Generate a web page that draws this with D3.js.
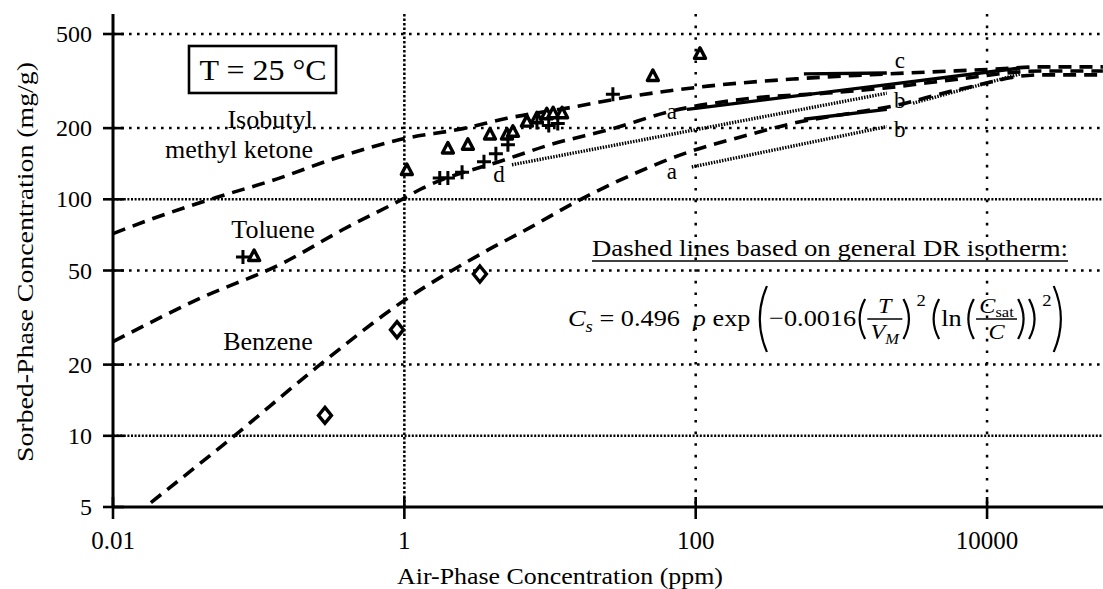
<!DOCTYPE html>
<html>
<head>
<meta charset="utf-8">
<script src="https://cdn.jsdelivr.net/npm/d3@7"></script>
<style>
  html, body { margin: 0; padding: 0; background: #fff; }
  svg { display: block; }
  text { font-family: "Liberation Serif", "DejaVu Serif", serif; fill: #000; }
</style>
</head>
<body>
<svg id="chart" width="1103" height="589"></svg>
<script>
// Axis ticks
const xTicks = [0.01, 1, 100, 10000];
const xTickLabels = ['0.01', '1', '100', '10000'];
const yTicks = [5, 10, 20, 50, 100, 200, 500];
const yTickLabels = ['5', '10', '20', '50', '100', '200', '500'];
const xGrid = [1, 100, 10000];
const yGrid = [10, 20, 50, 100, 200, 500];

// Measured points: isobutyl methyl ketone (triangles)
const ibmkX = [0.093, 1.04, 1.99, 2.73, 3.87, 5.06, 5.56, 6.94, 8.13, 9.5, 10.5, 12.1, 50.8, 107];
const ibmkY = [57.6, 133, 164, 170, 188, 188, 193, 213, 220, 229, 231, 231, 332, 412];
// toluene (plus signs)
const tolX = [0.078, 1.75, 1.99, 2.49, 3.52, 4.25, 5.14, 8.13, 9.8, 11.3, 27];
const tolY = [57, 123, 123, 130, 144, 156, 170, 211, 205, 209, 278];
// benzene (diamonds)
const benX = [0.285, 0.89, 3.3];
const benY = [12.2, 28.1, 48.3];

// General DR isotherm curves (dashed)
const drIbmkX = [0.01, 0.0179, 0.0518, 0.134, 0.324, 0.933, 2.52, 5.06, 13.1, 37, 121, 487, 2050, 12250, 23000, 62400];
const drIbmkY = [71.6, 82, 102, 122, 148, 179, 199, 220, 243, 273, 301, 323, 339, 356, 363, 363];
const drTolX = [0.01, 0.0395, 0.147, 0.379, 0.964, 1.28, 5.06, 9.98, 27, 66.5, 236, 771, 1930, 6500, 23000, 62400];
const drTolY = [25, 38.1, 53.8, 74.5, 100, 110, 148, 170, 199, 235, 267, 281, 295, 323, 349, 349];
const drBenX = [0.0182, 0.0667, 0.251, 0.933, 3.46, 7.28, 14.8, 30.2, 91, 236, 457, 1143, 2050, 6500, 23000, 62400];
const drBenY = [5.22, 9.9, 19.5, 36.3, 59.4, 75.9, 97, 120.5, 159, 188, 209, 231, 245, 292, 336, 336];

// Other isotherms (a-d)
const lineAUpX = [87, 2220, 16800];
const lineAUpY = [240, 307, 359];
const lineCX = [553, 2050];
const lineCY = [339, 342];
const lineBUpX = [553, 2050];
const lineBUpY = [218, 240];
const lineBDotX = [3100, 16900];
const lineBDotY = [255, 339];
const lineDX = [5.48, 2050];
const lineDY = [140, 281];
const lineALowX = [94, 2050];
const lineALowY = [137, 203];

// curve letter labels
const curveLabels = ['a', 'a', 'b', 'b', 'c', 'd'];
const curveLabelX = [68.7, 68.7, 2520, 2520, 2520, 4.46];
const curveLabelY = [235, 130.5, 262, 197, 385, 127];

const svg = d3.select('#chart');
const x = d3.scaleLog().domain([0.01, 62500]).range([113, 1103]);
const y = d3.scaleLog().domain([5, 500]).range([507, 34]);
const yTop = 14;
const zip = (a, b) => a.map((v, i) => [v, b[i]]);

// grid
svg.selectAll('.hgrid')
    .data(yGrid)
    .enter()
    .append('line')
    .attr('x1', x(0.01))
    .attr('x2', 1103)
    .attr('y1', d => y(d))
    .attr('y2', d => y(d))
    .attr('stroke', '#000')
    .attr('stroke-width', 2.5)
    .attr('stroke-dasharray', d => (d === 10 || d === 100) ? '2,1.6' : '2.6,5.4');

svg.selectAll('.vgrid')
    .data(xGrid)
    .enter()
    .append('line')
    .attr('x1', d => x(d))
    .attr('x2', d => x(d))
    .attr('y1', yTop)
    .attr('y2', y(5))
    .attr('stroke', '#000')
    .attr('stroke-width', 2.5)
    .attr('stroke-dasharray', d => d === 1 ? '2.5,2' : '2.6,9');

// axes
svg.append('line')
    .attr('x1', x(0.01)).attr('x2', x(0.01))
    .attr('y1', yTop).attr('y2', y(5) + 1)
    .attr('stroke', '#000').attr('stroke-width', 3);
svg.append('line')
    .attr('x1', x(0.01) - 1).attr('x2', 1103)
    .attr('y1', y(5)).attr('y2', y(5))
    .attr('stroke', '#000').attr('stroke-width', 3);

svg.selectAll('.ytick')
    .data(yTicks)
    .enter()
    .append('line')
    .attr('x1', x(0.01) - 10).attr('x2', x(0.01) + 11)
    .attr('y1', d => y(d)).attr('y2', d => y(d))
    .attr('stroke', '#000').attr('stroke-width', 2.6);

svg.selectAll('.xtick')
    .data(xTicks)
    .enter()
    .append('line')
    .attr('x1', d => x(d)).attr('x2', d => x(d))
    .attr('y1', y(5) - 10).attr('y2', y(5) + 12)
    .attr('stroke', '#000').attr('stroke-width', 2.6);

svg.selectAll('.ylab')
    .data(yTicks)
    .enter()
    .append('text')
    .attr('x', 92)
    .attr('y', d => y(d) + 8)
    .attr('text-anchor', 'end')
    .attr('font-size', 24)
    .text((d, i) => yTickLabels[i]);

svg.selectAll('.xlab')
    .data(xTicks)
    .enter()
    .append('text')
    .attr('x', d => x(d))
    .attr('y', 549)
    .attr('text-anchor', 'middle')
    .attr('font-size', 25)
    .text((d, i) => xTickLabels[i]);

svg.append('text')
    .attr('x', 560).attr('y', 584)
    .attr('text-anchor', 'middle')
    .attr('font-size', 23)
    .attr('textLength', 326)
    .attr('lengthAdjust', 'spacingAndGlyphs')
    .text('Air-Phase Concentration (ppm)');

svg.append('text')
    .attr('transform', 'translate(33,262) rotate(-90)')
    .attr('text-anchor', 'middle')
    .attr('font-size', 24)
    .attr('textLength', 400)
    .attr('lengthAdjust', 'spacingAndGlyphs')
    .text('Sorbed-Phase Concentration (mg/g)');

// curves
const line = d3.line()
    .x(d => x(d[0]))
    .y(d => y(d[1]))
    .curve(d3.curveMonotoneX);

const plot = svg.append('g');

[[drIbmkX, drIbmkY], [drTolX, drTolY], [drBenX, drBenY]].forEach(([xs, ys]) => {
    plot.append('path')
        .attr('d', line(zip(xs, ys)))
        .attr('fill', 'none')
        .attr('stroke', '#000')
        .attr('stroke-width', 3.6)
        .attr('stroke-dasharray', '13,8');
});

[[lineAUpX, lineAUpY], [lineCX, lineCY], [lineBUpX, lineBUpY]].forEach(([xs, ys]) => {
    plot.append('path')
        .attr('d', line(zip(xs, ys)))
        .attr('fill', 'none')
        .attr('stroke', '#000')
        .attr('stroke-width', 3.4);
});

[[lineBDotX, lineBDotY], [lineDX, lineDY], [lineALowX, lineALowY]].forEach(([xs, ys]) => {
    plot.append('path')
        .attr('d', line(zip(xs, ys)))
        .attr('fill', 'none')
        .attr('stroke', '#000')
        .attr('stroke-width', 3.4)
        .attr('stroke-dasharray', '1.5,1.3');
});

// markers
plot.selectAll('.tri')
    .data(zip(ibmkX, ibmkY))
    .enter()
    .append('path')
    .attr('transform', d => `translate(${x(d[0])},${y(d[1])})`)
    .attr('d', 'M0,-6 L5.5,4.5 L-5.5,4.5 Z')
    .attr('fill', '#fff')
    .attr('stroke', '#000')
    .attr('stroke-width', 3.4)
    .attr('stroke-linejoin', 'round');

plot.selectAll('.plus')
    .data(zip(tolX, tolY))
    .enter()
    .append('path')
    .attr('transform', d => `translate(${x(d[0])},${y(d[1])})`)
    .attr('d', 'M-7,0 H7 M0,-7 V7')
    .attr('stroke', '#000')
    .attr('stroke-width', 3);

plot.selectAll('.dia')
    .data(zip(benX, benY))
    .enter()
    .append('path')
    .attr('transform', d => `translate(${x(d[0])},${y(d[1])})`)
    .attr('d', 'M0,-8 L6.5,0 L0,8 L-6.5,0 Z')
    .attr('fill', '#fff')
    .attr('stroke', '#000')
    .attr('stroke-width', 3.4);

// curve letters
plot.selectAll('.clab')
    .data(curveLabels)
    .enter()
    .append('text')
    .attr('x', (d, i) => x(curveLabelX[i]))
    .attr('y', (d, i) => y(curveLabelY[i]))
    .attr('dy', '0.32em')
    .attr('text-anchor', 'middle')
    .attr('font-size', 23)
    .text(d => d);

// temperature box
svg.append('rect')
    .attr('x', 189).attr('y', 46)
    .attr('width', 147).attr('height', 47)
    .attr('fill', '#fff')
    .attr('stroke', '#000')
    .attr('stroke-width', 2.6);
svg.append('text')
    .attr('x', 263).attr('y', 80)
    .attr('text-anchor', 'middle')
    .attr('font-size', 30)
    .attr('textLength', 127)
    .attr('lengthAdjust', 'spacingAndGlyphs')
    .text('T = 25 \u00B0C');

// compound names
const names = [
    ['Isobutyl', 270, 128],
    ['methyl ketone', 239, 158],
    ['Toluene', 273, 238],
    ['Benzene', 268, 350]
];
names.forEach(([t, cx, by]) => {
    svg.append('text')
        .attr('x', cx).attr('y', by)
        .attr('text-anchor', 'middle')
        .attr('font-size', 26)
        .text(t);
});

// DR note
svg.append('text')
    .attr('x', 592).attr('y', 256)
    .attr('font-size', 24)
    .attr('textLength', 476)
    .attr('lengthAdjust', 'spacingAndGlyphs')
    .text('Dashed lines based on general DR isotherm:');
svg.append('line')
    .attr('x1', 592).attr('x2', 1068)
    .attr('y1', 261).attr('y2', 261)
    .attr('stroke', '#000').attr('stroke-width', 1.6);

// equation
function drawEquation(x0, x1, base) {
    const g = svg.append('g');
    let cx = 0;
    const fs = 24;
    function txt(s, opts = {}) {
        const t = g.append('text')
            .attr('x', cx + (opts.dx || 0))
            .attr('y', base + (opts.dy || 0))
            .attr('font-size', opts.size || fs)
            .attr('font-style', opts.italic ? 'italic' : 'normal')
            .text(s);
        const w = t.node().getComputedTextLength();
        cx += w + (opts.dx || 0);
        return w;
    }
    function paren(open, h, w) {
        const cy = base - 7;
        const xa = open ? cx + w : cx;
        const xb = open ? cx - 2 : cx + w + 2;
        g.append('path')
            .attr('d', `M${xa},${cy - h / 2} Q${xb},${cy} ${xa},${cy + h / 2}`)
            .attr('fill', 'none')
            .attr('stroke', '#000')
            .attr('stroke-width', 2);
        cx += w + 2;
    }
    function measure(parts) {
        let w = 0;
        parts.forEach(([s, size, it]) => {
            const t = g.append('text').attr('font-size', size).attr('font-style', it ? 'italic' : 'normal').text(s);
            w += t.node().getComputedTextLength();
            t.remove();
        });
        return w;
    }
    function frac(numFn, denFn) {
        const start = cx;
        const nw = numFn(true);
        const dw = denFn(true);
        const w = Math.max(nw, dw) + 6;
        cx = start + (w - nw) / 2;
        numFn(false);
        cx = start + (w - dw) / 2;
        denFn(false);
        g.append('line')
            .attr('x1', start).attr('x2', start + w)
            .attr('y1', base - 7).attr('y2', base - 7)
            .attr('stroke', '#000').attr('stroke-width', 1.6);
        cx = start + w + 1;
    }

    const sp = '\u00A0';
    txt('C', { italic: true });
    txt('s', { italic: true, size: 17, dy: 6 });
    txt(sp + '=' + sp + '0.496' + sp + sp);
    txt('\u03C1', { italic: true });
    txt(sp + 'exp');
    cx += 4;
    paren(true, 66, 11);
    txt('\u22120.0016');
    paren(true, 40, 8);
    frac(
        m => {
            if (m) return measure([['T', 22, true]]);
            txt('T', { italic: true, size: 22, dy: -13 });
        },
        m => {
            if (m) return measure([['V', 22, true], ['M', 15, true]]);
            txt('V', { italic: true, size: 22, dy: 13 });
            txt('M', { italic: true, size: 15, dy: 18 });
        }
    );
    paren(false, 40, 8);
    txt('2', { size: 17, dy: -20, dx: 2 });
    cx += 4;
    paren(true, 40, 8);
    txt('ln');
    cx += 3;
    paren(true, 40, 8);
    frac(
        m => {
            if (m) return measure([['C', 22, true], ['sat', 15, false]]);
            txt('C', { italic: true, size: 22, dy: -13 });
            txt('sat', { size: 15, dy: -9 });
        },
        m => {
            if (m) return measure([['C', 22, true]]);
            txt('C', { italic: true, size: 22, dy: 13 });
        }
    );
    paren(false, 40, 8);
    paren(false, 40, 8);
    txt('2', { size: 17, dy: -20, dx: 2 });
    cx += 2;
    paren(false, 66, 11);

    const sx = (x1 - x0) / cx;
    g.attr('transform', `translate(${x0},0) scale(${sx},1)`);
}
drawEquation(568, 1068, 326);
</script>
</body>
</html>
